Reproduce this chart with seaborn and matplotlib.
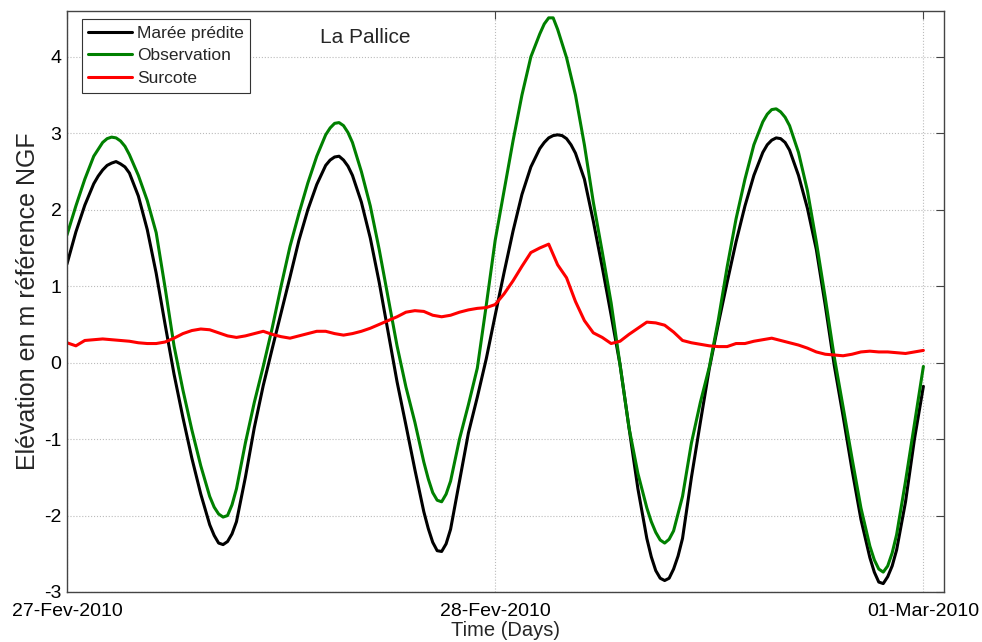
import matplotlib
matplotlib.use('Agg')
import matplotlib.pyplot as plt
import matplotlib.dates as mdates
import numpy as np
import pandas as pd
import seaborn as sns

# half-hourly samples over two days, starting 27 Feb 2010 00:00
hours = np.arange(0, 48.5, 0.5)

maree_predite = [
    1.29, 1.71, 2.06, 2.34, 2.52, 2.61, 2.60, 2.48, 2.18, 1.74, 1.17, 0.50,
    -0.15, -0.72, -1.25, -1.72, -2.12, -2.36, -2.34, -2.08, -1.50, -0.85, -0.30, 0.18,
    0.65, 1.12, 1.60, 2.00, 2.33, 2.58, 2.69, 2.65, 2.45, 2.10, 1.63, 1.05,
    0.40, -0.25, -0.82, -1.40, -1.95, -2.35, -2.47, -2.18, -1.55, -0.92, -0.45, 0.05,
    0.62, 1.18, 1.72, 2.20, 2.56, 2.80, 2.94, 2.98, 2.93, 2.74, 2.40, 1.85,
    1.25, 0.62, -0.03, -0.85, -1.65, -2.30, -2.72, -2.85, -2.70, -2.30, -1.50, -0.78,
    -0.08, 0.50, 1.05, 1.58, 2.05, 2.45, 2.75, 2.91, 2.93, 2.78, 2.45, 2.02,
    1.48, 0.75, -0.03, -0.70, -1.40, -2.05, -2.55, -2.87, -2.80, -2.45, -1.82, -1.00,
    -0.31,
]

observation = [
    1.67, 2.05, 2.40, 2.70, 2.88, 2.95, 2.90, 2.72, 2.45, 2.12, 1.70, 0.98,
    0.22, -0.36, -0.88, -1.35, -1.75, -1.98, -2.00, -1.65, -1.05, -0.52, -0.05, 0.45,
    1.00, 1.52, 1.95, 2.35, 2.70, 2.98, 3.13, 3.10, 2.88, 2.50, 2.05, 1.48,
    0.85, 0.22, -0.32, -0.78, -1.30, -1.70, -1.82, -1.55, -1.00, -0.55, -0.07, 0.75,
    1.60, 2.25, 2.90, 3.50, 4.00, 4.30, 4.51, 4.36, 3.99, 3.50, 2.85, 2.10,
    1.45, 0.78, -0.03, -0.85, -1.45, -1.90, -2.22, -2.36, -2.20, -1.75, -1.05, -0.52,
    -0.06, 0.55, 1.25, 1.88, 2.40, 2.85, 3.15, 3.31, 3.28, 3.10, 2.75, 2.25,
    1.58, 0.85, 0.08, -0.58, -1.25, -1.90, -2.40, -2.70, -2.66, -2.25, -1.55, -0.80,
    -0.05,
]

surcote = [
    0.26, 0.22, 0.29, 0.30, 0.31, 0.30, 0.29, 0.28, 0.26, 0.25, 0.25, 0.27,
    0.32, 0.38, 0.42, 0.44, 0.43, 0.39, 0.35, 0.33, 0.35, 0.38, 0.41, 0.37,
    0.34, 0.32, 0.35, 0.38, 0.41, 0.41, 0.38, 0.36, 0.38, 0.41, 0.45, 0.50,
    0.55, 0.60, 0.66, 0.68, 0.67, 0.62, 0.60, 0.62, 0.66, 0.69, 0.71, 0.72,
    0.76, 0.90, 1.07, 1.26, 1.44, 1.50, 1.55, 1.28, 1.11, 0.80, 0.55, 0.39,
    0.33, 0.25, 0.28, 0.37, 0.45, 0.53, 0.52, 0.49, 0.40, 0.29, 0.26, 0.24,
    0.22, 0.21, 0.21, 0.25, 0.25, 0.28, 0.30, 0.32, 0.29, 0.26, 0.23, 0.19,
    0.14, 0.11, 0.10, 0.09, 0.11, 0.14, 0.15, 0.14, 0.14, 0.13, 0.12, 0.14,
    0.16,
]

# extra quarter-hour readings around high and low waters
pred_extra_hours = [1.75, 2.25, 2.75, 3.25, 8.25, 8.75, 9.25, 14.75, 15.25, 15.75,
                    20.25, 20.75, 21.25, 26.75, 27.25, 27.75, 28.25, 32.75, 33.25,
                    33.75, 34.25, 39.25, 39.75, 40.25, 45.25, 45.75, 46.25]
pred_extra = [2.44, 2.58, 2.63, 2.56, -2.26, -2.38, -2.24, 2.65, 2.70, 2.57,
              -2.17, -2.46, -2.37, 2.88, 2.97, 2.97, 2.85, -2.54, -2.82,
              -2.82, -2.53, 2.85, 2.94, 2.88, -2.74, -2.89, -2.66]
obs_extra_hours = [2.25, 2.75, 3.25, 8.25, 8.75, 9.25, 14.75, 15.25, 15.75,
                   20.25, 20.75, 21.25, 26.75, 27.25, 32.75, 33.25, 33.75,
                   39.25, 39.75, 40.25, 45.25, 45.75, 46.25]
obs_extra = [2.93, 2.94, 2.83, -1.89, -2.02, -1.86, 3.07, 3.14, 3.01,
             -1.52, -1.80, -1.72, 4.43, 4.51, -2.08, -2.32, -2.31,
             3.25, 3.32, 3.21, -2.58, -2.74, -2.49]

series_names = ['Marée prédite', 'Observation', 'Surcote']
series_colors = ['#000000', '#008000', '#ff0000']
tick_dates = ['2010-02-27', '2010-02-28', '2010-03-01']
tick_labels = ['27-Fev-2010', '28-Fev-2010', '01-Mar-2010']
y_ticks = [-3, -2, -1, 0, 1, 2, 3, 4]

start = pd.Timestamp('2010-02-27')


def make_frame(h, vals, name):
    return pd.DataFrame({'time': start + pd.to_timedelta(np.asarray(h), unit='h'),
                         'value': vals, 'serie': name})


df = pd.concat([
    make_frame(hours, maree_predite, series_names[0]),
    make_frame(pred_extra_hours, pred_extra, series_names[0]),
    make_frame(hours, observation, series_names[1]),
    make_frame(obs_extra_hours, obs_extra, series_names[1]),
    make_frame(hours, surcote, series_names[2]),
]).sort_values(['serie', 'time'])

sns.set_theme(style='white')
plt.rcParams['font.family'] = ['Liberation Sans', 'DejaVu Sans']

fig = plt.figure(figsize=(9.82, 6.42), dpi=100)
ax = fig.add_axes([0.0682, 0.0779, 0.893, 0.905])

sns.lineplot(data=df, x='time', y='value', hue='serie', hue_order=series_names,
             palette=series_colors, linewidth=2.2, ax=ax)

ax.set_xlim(mdates.date2num(start), mdates.date2num(start + pd.Timedelta(hours=49.15)))
ax.set_ylim(-3, 4.6)
ax.set_xticks(mdates.date2num(pd.to_datetime(tick_dates)))
ax.set_xticklabels(tick_labels)
ax.set_yticks(y_ticks)
ax.set_yticklabels([str(v) for v in y_ticks])

ax.grid(True, linestyle=':', color='#bbbbbb', linewidth=0.8)
for side in ax.spines.values():
    side.set_color('#444444')
    side.set_linewidth(1.0)
ax.tick_params(direction='in', length=6, width=0.8, colors='#444444',
               labelcolor='black', labelsize=14, top=True, right=True, pad=4)
ax.tick_params(axis='x', pad=8)

ax.set_xlabel('Time (Days)', fontsize=14.5, labelpad=1)
ax.set_ylabel('Elévation en m référence NGF', fontsize=18, labelpad=3)

ax.text(0.34, 0.955, 'La Pallice', transform=ax.transAxes, ha='center', va='center',
        fontsize=15)

handles, labels = ax.get_legend_handles_labels()
leg = ax.legend(handles, labels, loc='upper left', bbox_to_anchor=(0.0168, 0.9857),
                borderaxespad=0, fontsize=12.5, frameon=True, fancybox=False,
                framealpha=1, edgecolor='#333333', handlelength=2.5,
                handletextpad=0.3, labelspacing=0.42, borderpad=0.38)
leg.get_frame().set_linewidth(0.8)

fig.savefig('out.png', dpi=100)
